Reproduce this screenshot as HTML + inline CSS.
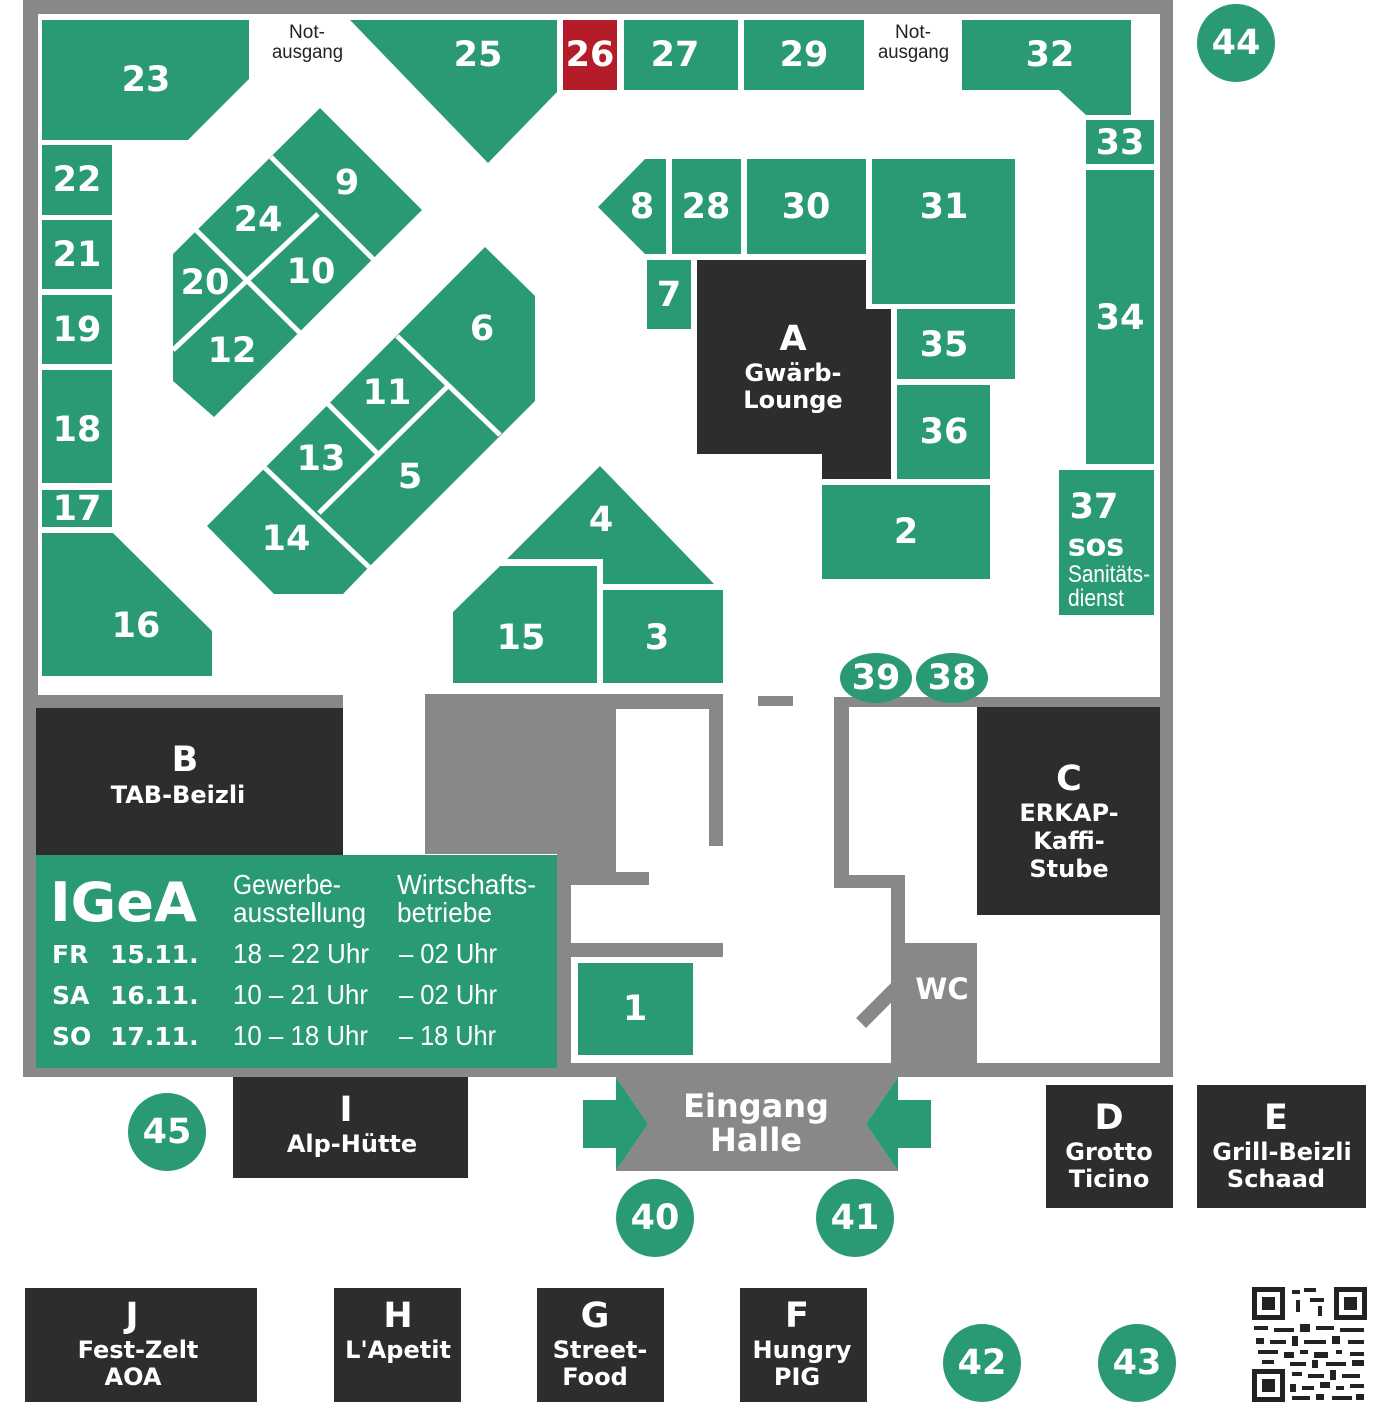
<!DOCTYPE html>
<html><head><meta charset="utf-8"><style>
html,body{margin:0;padding:0;background:#fff;}
svg{display:block;}
.n{font-family:"DejaVu Sans","Liberation Sans",sans-serif;font-weight:bold;fill:#fff;text-anchor:middle;dominant-baseline:central;}
.c{font-family:"Liberation Sans Narrow","Liberation Sans",sans-serif;fill:#fff;}
.na{font-family:"Liberation Sans Narrow","Liberation Sans",sans-serif;fill:#222;font-size:19px;}
</style></head><body>
<svg width="1400" height="1402" viewBox="0 0 1400 1402" xmlns="http://www.w3.org/2000/svg">
<defs><style>.g{fill:#299a74}.d{fill:#2d2d2c}.w{fill:#888886}</style></defs>
<rect class="w" x="23" y="0" width="1150" height="14"/>
<rect class="w" x="23" y="0" width="15" height="1077"/>
<rect class="w" x="1160" y="0" width="13" height="1077"/>
<rect class="w" x="23" y="1063" width="1150" height="14"/>
<rect class="w" x="38" y="695" width="305" height="13"/>
<rect class="w" x="834" y="697" width="326" height="10"/>
<polygon class="w" points="425,694 723,694 723,846 709,846 709,709 616,709 616,872 649,872 649,885 571,885 571,1063 557,1063 557,854 425,854"/>
<rect class="w" x="571" y="943" width="152" height="14"/>
<rect class="w" x="758" y="696" width="35" height="10"/>
<polygon class="w" points="834,697 849,697 849,875 905,875 905,1063 891,1063 891,888 834,888"/>
<rect class="w" x="897" y="943" width="80" height="120"/>
<line x1="861" y1="1023" x2="897" y2="987" stroke="#888886" stroke-width="14"/>
<polygon class="g" points="42,20 249,20 249,79 188,140 42,140"/>
<polygon class="g" points="350,20 557,20 557,92 488,163"/>
<rect x="563" y="20" width="54" height="70" fill="#b51c2a"/>
<rect class="g" x="624" y="20" width="114" height="70"/>
<rect class="g" x="744" y="20" width="120" height="70"/>
<polygon class="g" points="962,20 1131,20 1131,115 1086,115 1059,90 962,90"/>
<rect class="g" x="1086" y="120" width="68" height="44"/>
<rect class="g" x="1086" y="170" width="68" height="294"/>
<rect class="g" x="1059" y="470" width="95" height="145"/>
<rect class="g" x="42" y="145" width="70" height="70"/>
<rect class="g" x="42" y="220" width="70" height="69"/>
<rect class="g" x="42" y="295" width="70" height="69"/>
<rect class="g" x="42" y="370" width="70" height="113"/>
<rect class="g" x="42" y="490" width="70" height="37"/>
<polygon class="g" points="42,533 113,533 212,631 212,676 42,676"/>
<polygon class="g" points="320,108 422,210 214,417 173,381 173,254"/>
<g stroke="#fff" stroke-width="5">
<line x1="271" y1="157" x2="373" y2="259"/>
<line x1="196" y1="230" x2="300" y2="333"/>
<line x1="318" y1="214" x2="173" y2="350"/>
</g>
<polygon class="g" points="485,247 535,296 535,401 370,566 343,594 274,594 207,526"/>
<g stroke="#fff" stroke-width="5">
<line x1="397" y1="336" x2="500" y2="435"/>
<line x1="328" y1="404" x2="377" y2="453"/>
<line x1="265" y1="468" x2="369" y2="567"/>
<line x1="448" y1="386" x2="319" y2="513"/>
</g>
<polygon class="g" points="600,466 714,584 603,584 603,559 507,559"/>
<polygon class="g" points="453,612 500,566 597,566 597,683 453,683"/>
<rect class="g" x="603" y="590" width="120" height="93"/>
<polygon class="g" points="598,207 645,159 666,159 666,254 645,254"/>
<rect class="g" x="672" y="159" width="69" height="95"/>
<rect class="g" x="747" y="159" width="119" height="95"/>
<rect class="g" x="872" y="159" width="143" height="145"/>
<rect class="g" x="647" y="260" width="44" height="69"/>
<polygon class="d" points="697,260 866,260 866,309 891,309 891,479 822,479 822,454 697,454"/>
<rect class="g" x="897" y="309" width="118" height="70"/>
<rect class="g" x="897" y="385" width="93" height="94"/>
<rect class="g" x="822" y="485" width="168" height="94"/>
<ellipse class="g" cx="876" cy="678" rx="36" ry="25"/>
<ellipse class="g" cx="952" cy="678" rx="36" ry="25"/>
<rect class="d" x="36" y="708" width="307" height="147"/>
<rect class="g" x="36" y="855" width="521" height="213"/>
<rect class="g" x="578" y="963" width="115" height="92"/>
<rect class="d" x="977" y="707" width="183" height="208"/>
<circle class="g" cx="1236" cy="43" r="39"/>
<circle class="g" cx="167" cy="1132" r="39"/>
<rect class="d" x="233" y="1077" width="235" height="101"/>
<polygon class="w" points="616,1077 898,1077 866,1124 898,1171 616,1171 648,1124"/>
<polygon class="g" points="583,1100 616,1100 616,1077 648,1124 616,1171 616,1148 583,1148"/>
<polygon class="g" points="931,1100 898,1100 898,1077 866,1124 898,1171 898,1148 931,1148"/>
<circle class="g" cx="655" cy="1218" r="39"/>
<circle class="g" cx="855" cy="1218" r="39"/>
<rect class="d" x="1046" y="1085" width="127" height="123"/>
<rect class="d" x="1197" y="1085" width="169" height="123"/>
<rect class="d" x="25" y="1288" width="232" height="114"/>
<rect class="d" x="334" y="1288" width="127" height="114"/>
<rect class="d" x="537" y="1288" width="127" height="114"/>
<rect class="d" x="740" y="1288" width="127" height="114"/>
<circle class="g" cx="982" cy="1363" r="39"/>
<circle class="g" cx="1137" cy="1363" r="39"/>
<g fill="#222">
<rect x="1252" y="1287" width="33" height="33"/><rect x="1257" y="1292" width="23" height="23" fill="#fff"/><rect x="1262" y="1297" width="13" height="13"/>
<rect x="1334" y="1287" width="33" height="33"/><rect x="1339" y="1292" width="23" height="23" fill="#fff"/><rect x="1344" y="1297" width="13" height="13"/>
<rect x="1252" y="1369" width="33" height="33"/><rect x="1257" y="1374" width="23" height="23" fill="#fff"/><rect x="1262" y="1379" width="13" height="13"/>
<rect x="1292" y="1290" width="8" height="4"/><rect x="1304" y="1288" width="12" height="4"/><rect x="1296" y="1300" width="4" height="12"/><rect x="1310" y="1298" width="14" height="4"/><rect x="1318" y="1306" width="4" height="10"/>
<rect x="1254" y="1326" width="14" height="4"/><rect x="1274" y="1328" width="20" height="4"/><rect x="1300" y="1324" width="10" height="8"/><rect x="1316" y="1326" width="18" height="4"/><rect x="1340" y="1328" width="24" height="4"/>
<rect x="1256" y="1338" width="8" height="6"/><rect x="1270" y="1340" width="16" height="4"/><rect x="1292" y="1336" width="6" height="10"/><rect x="1304" y="1340" width="22" height="4"/><rect x="1332" y="1336" width="8" height="8"/><rect x="1348" y="1340" width="16" height="4"/>
<rect x="1258" y="1350" width="20" height="4"/><rect x="1284" y="1352" width="10" height="6"/><rect x="1300" y="1350" width="8" height="4"/><rect x="1314" y="1352" width="14" height="6"/><rect x="1336" y="1350" width="6" height="4"/><rect x="1350" y="1352" width="14" height="4"/>
<rect x="1262" y="1360" width="12" height="4"/><rect x="1290" y="1362" width="16" height="4"/><rect x="1312" y="1360" width="6" height="8"/><rect x="1326" y="1362" width="20" height="4"/><rect x="1352" y="1360" width="12" height="6"/>
<rect x="1292" y="1372" width="10" height="4"/><rect x="1308" y="1374" width="16" height="4"/><rect x="1330" y="1370" width="6" height="10"/><rect x="1342" y="1374" width="18" height="4"/>
<rect x="1290" y="1384" width="6" height="8"/><rect x="1302" y="1386" width="12" height="4"/><rect x="1320" y="1382" width="10" height="6"/><rect x="1336" y="1386" width="8" height="4"/><rect x="1350" y="1384" width="14" height="4"/>
<rect x="1292" y="1396" width="18" height="4"/><rect x="1316" y="1394" width="8" height="6"/><rect x="1332" y="1396" width="20" height="4"/><rect x="1356" y="1394" width="8" height="6"/>
</g>
<g class="n" font-size="35">
<text x="146" y="80">23</text><text x="478" y="55">25</text><text x="590" y="55">26</text><text x="675" y="55">27</text><text x="804" y="55">29</text><text x="1050" y="55">32</text>
<text x="1120" y="143">33</text><text x="1120" y="318">34</text>
<text x="77" y="180">22</text><text x="77" y="255">21</text><text x="77" y="330">19</text><text x="77" y="430">18</text><text x="77" y="509">17</text><text x="136" y="626">16</text>
<text x="347" y="183">9</text><text x="258" y="220">24</text><text x="205" y="283">20</text><text x="311" y="272">10</text><text x="232" y="351">12</text>
<text x="482" y="329">6</text><text x="387" y="393">11</text><text x="321" y="459">13</text><text x="410" y="477">5</text><text x="286" y="539">14</text>
<text x="601" y="520">4</text><text x="521" y="638">15</text><text x="657" y="638">3</text>
<text x="642" y="207">8</text><text x="706" y="207">28</text><text x="806" y="207">30</text><text x="944" y="207">31</text><text x="669" y="295">7</text>
<text x="944" y="345">35</text><text x="944" y="432">36</text><text x="906" y="532">2</text>
<text x="1094" y="507">37</text>
<text x="876" y="678">39</text><text x="952" y="678">38</text>
<text x="1236" y="43">44</text><text x="167" y="1132">45</text><text x="635" y="1009">1</text>
<text x="655" y="1218">40</text><text x="855" y="1218">41</text><text x="982" y="1363">42</text><text x="1137" y="1363">43</text>
<text x="793" y="339">A</text><text x="185" y="760">B</text><text x="1069" y="779">C</text><text x="346" y="1110">I</text>
<text x="1109" y="1118">D</text><text x="1276" y="1118">E</text><text x="132" y="1316">J</text><text x="398" y="1316">H</text><text x="595" y="1316">G</text><text x="797" y="1316">F</text>
</g>
<text class="n" x="1096" y="546" font-size="30">sos</text>
<text class="c" x="1068" y="582" font-size="24" textLength="82" lengthAdjust="spacingAndGlyphs">Sanitäts-</text>
<text class="c" x="1068" y="606" font-size="24" textLength="56" lengthAdjust="spacingAndGlyphs">dienst</text>
<g class="n" font-size="24">
<text x="793" y="373">Gwärb-</text><text x="793" y="400">Lounge</text>
<text x="178" y="795">TAB-Beizli</text>
<text x="1069" y="813">ERKAP-</text><text x="1069" y="841">Kaffi-</text><text x="1069" y="869">Stube</text>
<text x="352" y="1144">Alp-Hütte</text>
<text x="1109" y="1152">Grotto</text><text x="1109" y="1179">Ticino</text>
<text x="1282" y="1152">Grill-Beizli</text><text x="1276" y="1179">Schaad</text>
<text x="138" y="1350">Fest-Zelt</text><text x="133" y="1377">AOA</text>
<text x="398" y="1350">L'Apetit</text>
<text x="600" y="1350">Street-</text><text x="595" y="1377">Food</text>
<text x="802" y="1350">Hungry</text><text x="797" y="1377">PIG</text>
</g>
<text class="n" x="942" y="989" font-size="29">WC</text>
<text class="n" x="756" y="1106" font-size="32">Eingang</text>
<text class="n" x="756" y="1140" font-size="32">Halle</text>
<text class="na" x="289" y="38" textLength="36" lengthAdjust="spacingAndGlyphs">Not-</text><text class="na" x="272" y="58" textLength="71" lengthAdjust="spacingAndGlyphs">ausgang</text>
<text class="na" x="895" y="38" textLength="36" lengthAdjust="spacingAndGlyphs">Not-</text><text class="na" x="878" y="58" textLength="71" lengthAdjust="spacingAndGlyphs">ausgang</text>
<text x="50" y="921" font-family="DejaVu Sans,sans-serif" font-weight="bold" font-size="54" fill="#fff" textLength="147" lengthAdjust="spacingAndGlyphs">IGeA</text>
<g class="c" font-size="28" lengthAdjust="spacingAndGlyphs">
<text x="233" y="894" textLength="108" lengthAdjust="spacingAndGlyphs">Gewerbe-</text><text x="233" y="922" textLength="133" lengthAdjust="spacingAndGlyphs">ausstellung</text>
<text x="397" y="894" textLength="139" lengthAdjust="spacingAndGlyphs">Wirtschafts-</text><text x="397" y="922" textLength="95" lengthAdjust="spacingAndGlyphs">betriebe</text>
<text x="233" y="963" textLength="136" lengthAdjust="spacingAndGlyphs">18 – 22 Uhr</text><text x="399" y="963" textLength="98" lengthAdjust="spacingAndGlyphs">– 02 Uhr</text>
<text x="233" y="1004" textLength="135" lengthAdjust="spacingAndGlyphs">10 – 21 Uhr</text><text x="399" y="1004" textLength="98" lengthAdjust="spacingAndGlyphs">– 02 Uhr</text>
<text x="233" y="1045" textLength="135" lengthAdjust="spacingAndGlyphs">10 – 18 Uhr</text><text x="399" y="1045" textLength="97" lengthAdjust="spacingAndGlyphs">– 18 Uhr</text>
</g>
<g font-family="DejaVu Sans,sans-serif" font-weight="bold" font-size="25" fill="#fff">
<text x="52" y="963">FR</text><text x="110" y="963">15.11.</text>
<text x="52" y="1004">SA</text><text x="110" y="1004">16.11.</text>
<text x="52" y="1045">SO</text><text x="110" y="1045">17.11.</text>
</g>
</svg>
</body></html>
